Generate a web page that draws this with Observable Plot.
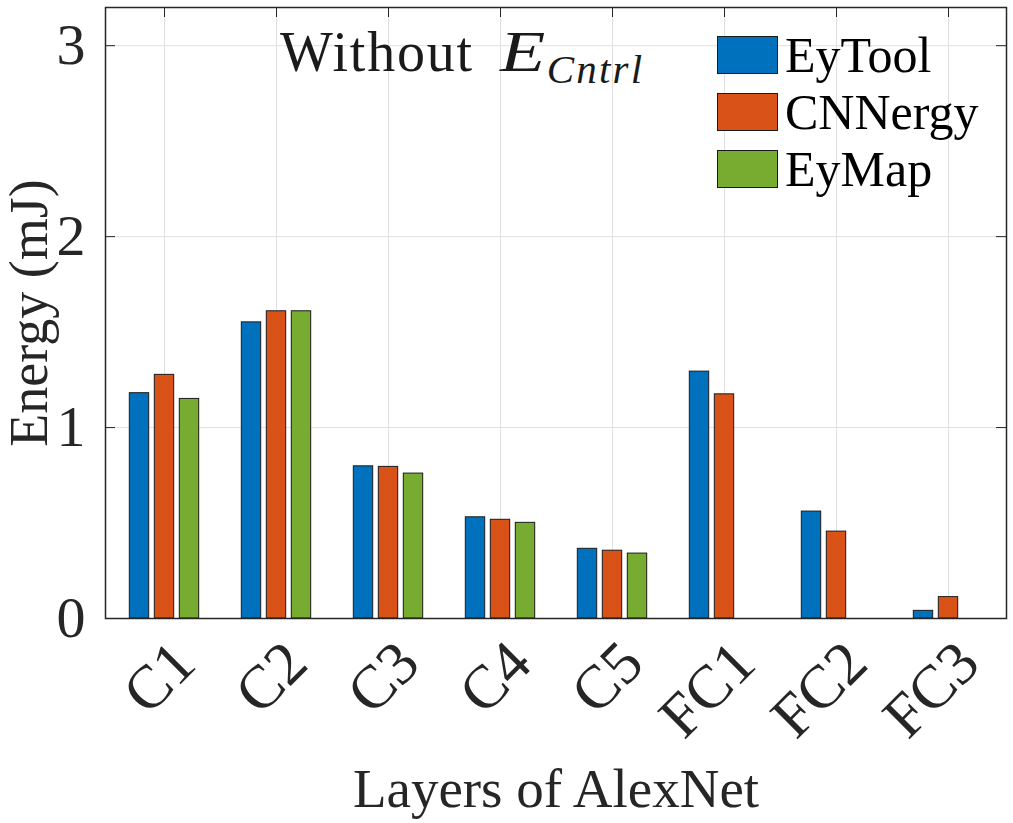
<!DOCTYPE html>
<html>
<head>
<meta charset="utf-8">
<script src="https://cdn.jsdelivr.net/npm/d3@7"></script>
<script src="https://cdn.jsdelivr.net/npm/@observablehq/plot@0.6"></script>
<style>
  html, body { margin: 0; padding: 0; background: #fff; }
  #wrap { position: relative; width: 1013px; height: 823px; font-family: "Liberation Serif", "DejaVu Serif", serif; color: #1a1a1a; }
  #title { position: absolute; left: 280px; top: 23px; font-size: 56px; line-height: 1; white-space: nowrap; }
  #title .w { letter-spacing: 1.8px; }
  #title .e { display: inline-block; font-size: 57px; margin-left: 26px; transform: scaleX(1.3); transform-origin: left center; }
  #title sub { font-size: 41px; vertical-align: -0.3em; line-height: 0; letter-spacing: 2.2px; margin-left: 12px; }
  #legend { position: absolute; left: 717px; top: 36px; }
  .item { display: flex; align-items: center; height: 38px; margin-bottom: 19px; }
  .sw { width: 59px; height: 36px; border: 1px solid #1a1a1a; margin-right: 7px; }
  .lab { font-size: 50px; line-height: 1; white-space: nowrap; color: #000; }
</style>
</head>
<body>
<div id="wrap"></div>
<script>
const layers = ["C1", "C2", "C3", "C4", "C5", "FC1", "FC2", "FC3"];
const series = ["EyTool", "CNNergy", "EyMap"];
const eyTool  = [1.180, 1.551, 0.797, 0.530, 0.365, 1.293, 0.560, 0.040];
const cnnergy = [1.276, 1.609, 0.794, 0.517, 0.355, 1.174, 0.455, 0.112];
const eyMap   = [1.150, 1.609, 0.759, 0.501, 0.340, 0.000, 0.000, 0.000];
const yTicks = [0, 1, 2, 3];
const colors = ["#0072BD", "#D95319", "#77AC30"];

const values = {EyTool: eyTool, CNNergy: cnnergy, EyMap: eyMap};
const data = series.flatMap(s => layers.map((l, i) => ({layer: l, series: s, value: values[s][i]})));

const W = 1013, H = 823;
const mL = 105, mR = 7, mT = 7, mB = 205;
const frameW = W - mL - mR, frameH = H - mT - mB;
const band = frameW / layers.length;
const barW = 20, step = 25;
const font = '"Liberation Serif", "DejaVu Serif", serif';
const ink = "#262626";

const barMarks = series.map((s, k) => Plot.barY(data.filter(d => d.series === s), {
  x: "layer", y: "value", fill: "series",
  stroke: "#1a1a1a", strokeWidth: 1,
  insetLeft: (band - barW) / 2, insetRight: (band - barW) / 2,
  dx: (k - 1) * step
}));

const tickLen = 10;
const chart = Plot.plot({
  width: W, height: H,
  marginLeft: mL, marginRight: mR, marginTop: mT, marginBottom: mB,
  style: {fontFamily: font, color: ink, background: "#fff"},
  x: {type: "band", domain: layers, padding: 0, label: null, axis: null},
  y: {domain: [0, 3.2], label: null, axis: null},
  color: {domain: series, range: colors},
  marks: [
    Plot.gridY(yTicks, {stroke: "#e0e0e0", strokeOpacity: 1, strokeWidth: 1}),
    Plot.gridX(layers, {stroke: "#e0e0e0", strokeOpacity: 1, strokeWidth: 1}),
    Plot.tickY(yTicks, {y: d => d, stroke: ink, strokeWidth: 1, insetRight: frameW - tickLen}),
    Plot.tickY(yTicks, {y: d => d, stroke: ink, strokeWidth: 1, insetLeft: frameW - tickLen}),
    Plot.tickX(layers, {x: d => d, stroke: ink, strokeWidth: 1, insetBottom: frameH - tickLen}),
    Plot.tickX(layers, {x: d => d, stroke: ink, strokeWidth: 1, insetTop: frameH - tickLen}),
    ...barMarks,
    Plot.frame({stroke: ink, strokeWidth: 1.5}),
    Plot.axisY(yTicks, {tickSize: 0, tickPadding: 20, fontSize: 58, fill: ink, label: null, tickFormat: d => String(d)}),
    Plot.axisX(layers, {tickSize: 0, tickRotate: -45, tickPadding: 14, fontSize: 61, fill: ink, label: null, dx: 20, dy: 20}),
    Plot.text(["Layers of AlexNet"], {frameAnchor: "bottom", dy: 188, lineAnchor: "bottom", fontSize: 55, fill: ink}),
    Plot.text(["Energy (mJ)"], {frameAnchor: "left", dx: -76, rotate: -90, textAnchor: "middle", fontSize: 54, fill: ink})
  ]
});

const wrap = document.getElementById("wrap");
wrap.appendChild(chart);
chart.style.position = "absolute"; chart.style.left = "0"; chart.style.top = "0";

const title = document.createElement("div");
title.id = "title";
title.innerHTML = '<span class="w">Without</span><i class="e">E</i><sub><i>Cntrl</i></sub>';
wrap.appendChild(title);

const legend = document.createElement("div");
legend.id = "legend";
series.forEach((s, i) => {
  const it = document.createElement("div");
  it.className = "item";
  const sw = document.createElement("div");
  sw.className = "sw"; sw.style.background = colors[i];
  const lab = document.createElement("span");
  lab.className = "lab"; lab.textContent = s;
  it.appendChild(sw); it.appendChild(lab);
  legend.appendChild(it);
});
wrap.appendChild(legend);
</script>
</body>
</html>
